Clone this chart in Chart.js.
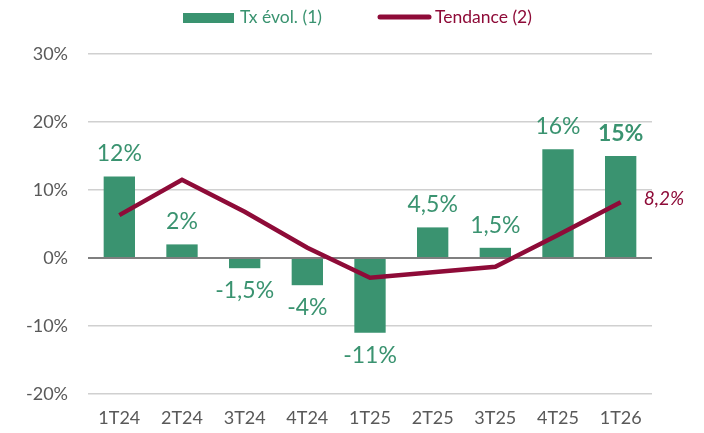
<!DOCTYPE html>
<html>
<head>
<meta charset="utf-8">
<script src="https://cdn.jsdelivr.net/npm/chart.js@4.4.1/dist/chart.umd.min.js"></script>
<style>
  html, body { margin: 0; padding: 0; background: #fff; }
  #wrap { width: 704px; height: 433px; }
</style>
</head>
<body>
<div id="wrap"><canvas id="chart" width="704" height="433"></canvas></div>
<script>
// Data
const quarters = ["1T24", "2T24", "3T24", "4T24", "1T25", "2T25", "3T25", "4T25", "1T26"];
const evolution = [12, 2, -1.5, -4, -11, 4.5, 1.5, 16, 15];
const trend = [6.3, 11.5, 6.8, 1.5, -2.9, -2.1, -1.3, 3.4, 8.2];
const yTicks = [-20, -10, 0, 10, 20, 30];

const green = "#3a9370";
const wine = "#8e0b38";
const font = "Lato, 'Open Sans', sans-serif";

function pct(v) {
  return String(v).replace(".", ",") + "%";
}

// Value labels + legend drawn by hand
const labelsPlugin = {
  id: "valueLabels",
  afterDatasetsDraw(chart) {
    const ctx = chart.ctx;
    ctx.save();

    // bar labels
    const bars = chart.getDatasetMeta(1).data;
    bars.forEach((bar, i) => {
      const v = evolution[i];
      const last = i === evolution.length - 1;
      ctx.fillStyle = green;
      ctx.textAlign = "center";
      ctx.font = (last ? "bold " : "") + "23px " + font;
      if (v >= 0) {
        ctx.textBaseline = "alphabetic";
        ctx.fillText(pct(v), bar.x, bar.y - 15);
      } else {
        ctx.textBaseline = "top";
        ctx.fillText(pct(v), bar.x, bar.y + 11);
      }
    });

    // last trend label
    const pts = chart.getDatasetMeta(0).data;
    const p = pts[pts.length - 1];
    ctx.fillStyle = wine;
    ctx.font = "italic 19px " + font;
    ctx.textAlign = "left";
    ctx.textBaseline = "alphabetic";
    ctx.fillText(pct(trend[trend.length - 1]), p.x + 23, p.y + 3);

    // legend
    ctx.fillStyle = green;
    ctx.fillRect(183, 13, 51, 10);
    ctx.font = "17.5px " + font;
    ctx.fillText("Tx évol. (1)", 240, 23);

    ctx.strokeStyle = wine;
    ctx.lineWidth = 5;
    ctx.lineCap = "round";
    ctx.beginPath();
    ctx.moveTo(380, 17);
    ctx.lineTo(429, 17);
    ctx.stroke();
    ctx.fillStyle = wine;
    ctx.fillText("Tendance (2)", 435, 23);

    ctx.restore();
  }
};

new Chart(document.getElementById("chart").getContext("2d"), {
  type: "bar",
  data: {
    labels: quarters,
    datasets: [
      {
        type: "line",
        label: "Tendance (2)",
        data: trend,
        borderColor: wine,
        borderWidth: 4.5,
        pointRadius: 0,
        tension: 0,
        order: 0
      },
      {
        type: "bar",
        label: "Tx évol. (1)",
        data: evolution,
        backgroundColor: green,
        barPercentage: 0.5,
        categoryPercentage: 1,
        order: 1
      }
    ]
  },
  options: {
    responsive: false,
    animation: false,
    layout: { padding: { top: 54, right: 52, left: 0, bottom: 0 } },
    plugins: {
      legend: { display: false },
      tooltip: { enabled: false }
    },
    scales: {
      x: {
        grid: { display: false, drawTicks: false },
        border: { display: false },
        ticks: { color: "#595959", font: { family: font, size: 18 }, padding: 13 },
        afterFit(s) { s.height = 39; }
      },
      y: {
        min: -20,
        max: 30,
        afterBuildTicks(s) { s.ticks = yTicks.map(v => ({ value: v })); },
        grid: {
          drawTicks: false,
          color: c => (c.tick && c.tick.value === 0 ? "#7f7f7f" : "#d0d0d0"),
          lineWidth: c => (c.tick && c.tick.value === 0 ? 2 : 1.5)
        },
        border: { display: false },
        ticks: {
          color: "#595959",
          font: { family: font, size: 18 },
          padding: 20,
          callback: v => v + "%"
        },
        afterFit(s) { s.width = 88; }
      }
    }
  },
  plugins: [labelsPlugin]
});
</script>
</body>
</html>
